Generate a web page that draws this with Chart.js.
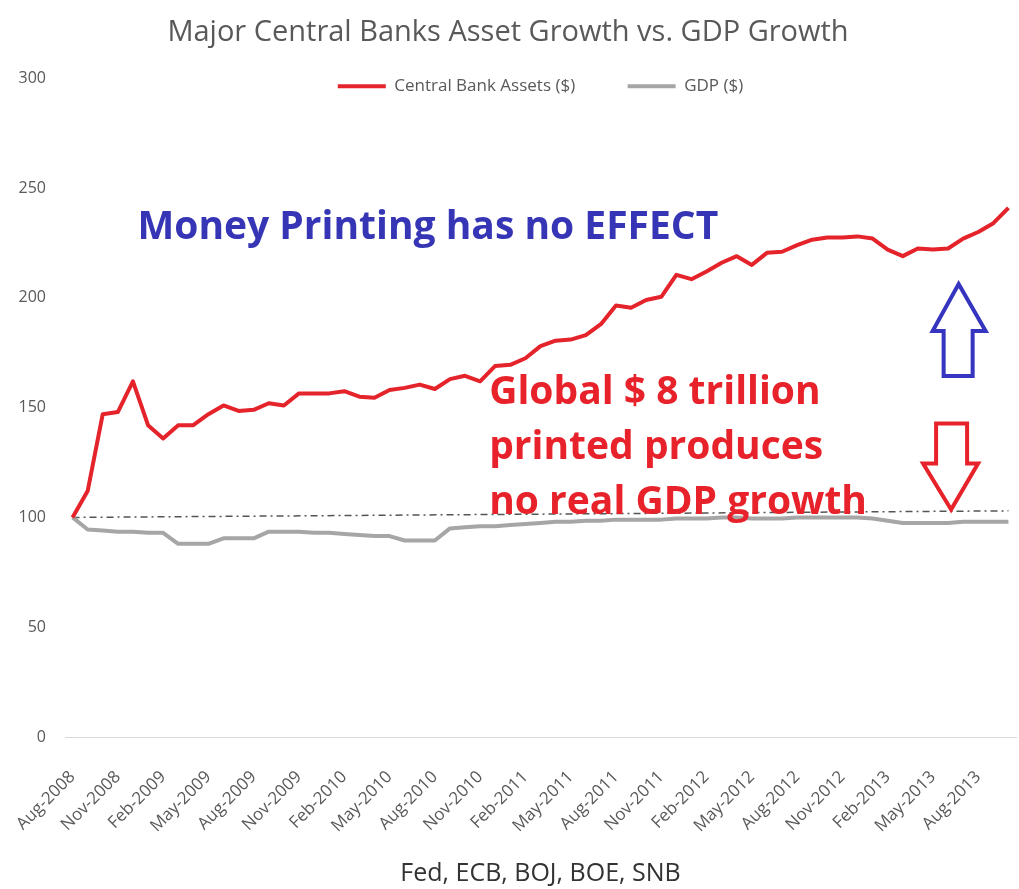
<!DOCTYPE html>
<html>
<head>
<meta charset="utf-8">
<script src="https://cdn.jsdelivr.net/npm/chart.js"></script>
<style>
  html, body { margin: 0; padding: 0; background: #fff; }
  #wrap { width: 1019px; height: 889px; }
</style>
</head>
<body>
<div id="wrap"><canvas id="bankChart" width="1019" height="889"></canvas></div>
<script>
// months, Aug-2008 .. Oct-2013
const months = [
  'Aug-2008', 'Sep-2008', 'Oct-2008', 'Nov-2008', 'Dec-2008',
  'Jan-2009', 'Feb-2009', 'Mar-2009', 'Apr-2009', 'May-2009', 'Jun-2009', 'Jul-2009', 'Aug-2009', 'Sep-2009', 'Oct-2009', 'Nov-2009', 'Dec-2009',
  'Jan-2010', 'Feb-2010', 'Mar-2010', 'Apr-2010', 'May-2010', 'Jun-2010', 'Jul-2010', 'Aug-2010', 'Sep-2010', 'Oct-2010', 'Nov-2010', 'Dec-2010',
  'Jan-2011', 'Feb-2011', 'Mar-2011', 'Apr-2011', 'May-2011', 'Jun-2011', 'Jul-2011', 'Aug-2011', 'Sep-2011', 'Oct-2011', 'Nov-2011', 'Dec-2011',
  'Jan-2012', 'Feb-2012', 'Mar-2012', 'Apr-2012', 'May-2012', 'Jun-2012', 'Jul-2012', 'Aug-2012', 'Sep-2012', 'Oct-2012', 'Nov-2012', 'Dec-2012',
  'Jan-2013', 'Feb-2013', 'Mar-2013', 'Apr-2013', 'May-2013', 'Jun-2013', 'Jul-2013', 'Aug-2013', 'Sep-2013', 'Oct-2013'
];

// only every third month gets a label on the axis
const tickLabels = [
  'Aug-2008', 'Nov-2008', 'Feb-2009', 'May-2009', 'Aug-2009', 'Nov-2009', 'Feb-2010',
  'May-2010', 'Aug-2010', 'Nov-2010', 'Feb-2011', 'May-2011', 'Aug-2011', 'Nov-2011',
  'Feb-2012', 'May-2012', 'Aug-2012', 'Nov-2012', 'Feb-2013', 'May-2013', 'Aug-2013'
];

const centralBankAssets = [
  100, 112, 147, 148, 162, 142, 136, 142, 142, 147, 151, 148.5, 149, 152, 151, 156.5,
  156.5, 156.5, 157.5, 155, 154.5, 158, 159, 160.5, 158.5, 163, 164.5, 162, 169, 169.5,
  172.5, 178, 180.5, 181, 183, 188, 196.5, 195.5, 199, 200.5, 210.5, 208.5, 212, 216,
  219, 215, 220.5, 221, 224, 226.5, 227.5, 227.5, 228, 227, 222, 219, 222.5, 222,
  222.5, 227, 230, 234, 241
];

const gdp = [
  100, 94.5, 94, 93.5, 93.5, 93, 93, 88, 88, 88, 90.5, 90.5, 90.5, 93.5, 93.5, 93.5,
  93, 93, 92.5, 92, 91.5, 91.5, 89.5, 89.5, 89.5, 95, 95.5, 96, 96, 96.5,
  97, 97.5, 98, 98, 98.5, 98.5, 99, 99, 99, 99, 99.5, 99.5, 99.5, 100,
  100, 99.5, 99.5, 99.5, 100, 100, 100, 100, 100, 99.5, 98.5, 97.5, 97.5, 97.5,
  97.5, 98, 98, 98, 98
];

// dash-dot reference line from the first to the last month
const trendStart = 100;
const trendEnd = 103;

const blueNote = 'Money Printing has no EFFECT';
const redNote = ['Global $ 8 trillion', 'printed produces', 'no real GDP growth'];

const trendLine = months.map((m, i) => {
    if (i === 0) return trendStart;
    if (i === months.length - 1) return trendEnd;
    return null;
});

// arrow outlines, px offsets from the tip
const upArrow = [[0, 0], [27, 47], [14, 47], [14, 92], [-15, 92], [-15, 47], [-26, 47]];
const downArrow = [[0, 0], [-28, -46], [-15, -46], [-15, -86], [16, -86], [16, -46], [27, -46]];

// Legende liegt im Diagramm, nicht darüber
const legendShift = {
    id: 'legendShift',
    afterLayout(chart) {
        if (!chart.legend) return;
        chart.legend.top += 26.5;
        chart.legend.bottom += 26.5;
    }
};

const notesPlugin = {
    id: 'notes',
    afterDatasetsDraw(chart) {
        const ctx = chart.ctx;
        const xs = chart.scales.x;
        const ys = chart.scales.y;

        ctx.save();
        ctx.textBaseline = 'alphabetic';
        ctx.textAlign = 'left';

        // blauer Text oben
        ctx.font = 'bold 39px "Open Sans"';
        ctx.fillStyle = '#3535b5';
        ctx.fillText(blueNote, xs.getPixelForValue(4.3), ys.getPixelForValue(227));

        // roter Text, drei Zeilen
        ctx.font = 'bold 39px "Open Sans"';
        ctx.fillStyle = '#e8222a';
        const redBase = [151.6, 126.7, 101.4];
        redNote.forEach((line, i) => {
            ctx.fillText(line, xs.getPixelForValue(27.6), ys.getPixelForValue(redBase[i]));
        });

        // Pfeile
        ctx.lineWidth = 4;
        ctx.lineJoin = 'miter';
        const drawArrow = (shape, idx, val, color) => {
            const tx = xs.getPixelForValue(idx);
            const ty = ys.getPixelForValue(val);
            ctx.strokeStyle = color;
            ctx.beginPath();
            shape.forEach(([dx, dy], k) => {
                if (k === 0) ctx.moveTo(tx + dx, ty + dy);
                else ctx.lineTo(tx + dx, ty + dy);
            });
            ctx.closePath();
            ctx.stroke();
        };
        drawArrow(upArrow, 58.7, 206.3, '#3535c0');
        drawArrow(downArrow, 58.2, 103.6, '#e8222a');

        ctx.restore();
    }
};

const ctx = document.getElementById('bankChart');

new Chart(ctx, {
    type: 'line',
    data: {
        labels: months,
        datasets: [{
            label: 'Central Bank Assets ($)',
            data: centralBankAssets,
            borderColor: '#e5232b',
            backgroundColor: '#e5232b',
            borderWidth: 4,
            pointRadius: 0,
            tension: 0,
            borderJoinStyle: 'round'
        }, {
            label: 'GDP ($)',
            data: gdp,
            borderColor: '#a6a6a6',
            backgroundColor: '#a6a6a6',
            borderWidth: 4,
            pointRadius: 0,
            tension: 0,
            borderJoinStyle: 'round'
        }, {
            label: 'trend',
            data: trendLine,
            borderColor: '#555555',
            borderWidth: 1.5,
            borderDash: [7, 4, 2, 4],
            pointRadius: 0,
            spanGaps: true
        }]
    },
    options: {
        responsive: false,
        animation: false,
        layout: {
            padding: { left: 0, right: 3, top: 0, bottom: 0 }
        },
        plugins: {
            title: {
                display: true,
                text: 'Major Central Banks Asset Growth vs. GDP Growth',
                color: '#595959',
                font: { family: 'Open Sans', size: 29, weight: 'normal' },
                padding: { top: 15, bottom: 0 }
            },
            legend: {
                position: 'top',
                fullSize: false,
                labels: {
                    usePointStyle: true,
                    pointStyle: 'line',
                    pointStyleWidth: 48,
                    color: '#595959',
                    font: { family: 'Open Sans', size: 17 },
                    padding: 1.5,
                    generateLabels(chart) {
                        const items = Chart.defaults.plugins.legend.labels.generateLabels(chart);
                        const shown = items.filter(it => it.datasetIndex < 2);
                        shown[0].text = shown[0].text + '\u2003\u2003\u2003';
                        return shown;
                    }
                }
            },
            tooltip: { enabled: false }
        },
        scales: {
            x: {
                offset: true,
                grid: { display: false },
                border: { display: true, color: '#d9d9d9', width: 1 },
                ticks: {
                    autoSkip: false,
                    minRotation: 45,
                    maxRotation: 45,
                    padding: 22,
                    color: '#595959',
                    font: { family: 'Open Sans', size: 17 },
                    callback(value) {
                        const lbl = this.getLabelForValue(value);
                        return tickLabels.includes(lbl) ? lbl : null;
                    }
                },
                title: {
                    display: true,
                    text: 'Fed, ECB, BOJ, BOE, SNB',
                    color: '#333333',
                    font: { family: 'Open Sans', size: 25 },
                    padding: { top: 4, bottom: 0 }
                },
                afterFit(scale) {
                    scale.height = 152;
                    // die schrägen Beschriftungen dürfen links überstehen
                    scale.paddingLeft = 0;
                    scale.paddingRight = 0;
                }
            },
            y: {
                min: 0,
                max: 300,
                grid: { display: false },
                border: { display: false },
                ticks: {
                    stepSize: 50,
                    padding: 11,
                    color: '#595959',
                    font: { family: 'Open Sans', size: 16 }
                },
                afterFit(scale) {
                    scale.width = 65;
                }
            }
        }
    },
    plugins: [legendShift, notesPlugin]
});
</script>
</body>
</html>
